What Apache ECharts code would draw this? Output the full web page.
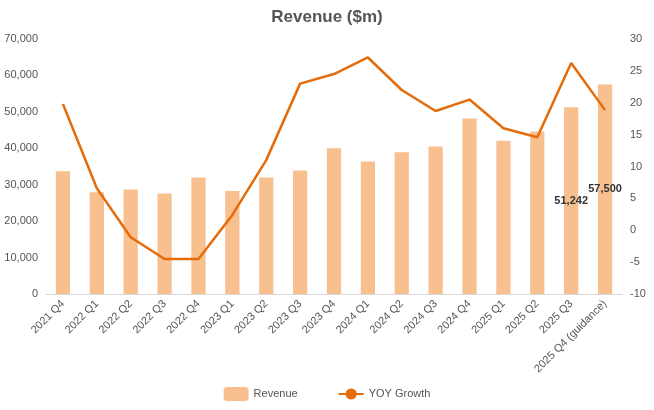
<!DOCTYPE html>
<html lang="en">
<head>
<meta charset="UTF-8">
<title>Revenue</title>
<script src="https://cdn.jsdelivr.net/npm/echarts@6/dist/echarts.min.js"></script>
<style>html,body{margin:0;padding:0;background:#fff}#main{width:654px;height:410px}</style>
</head>
<body>
<div id="main"></div>
<script>
var categories = ['2021 Q4','2022 Q1','2022 Q2','2022 Q3','2022 Q4','2023 Q1','2023 Q2','2023 Q3','2023 Q4','2024 Q1','2024 Q2','2024 Q3','2024 Q4','2025 Q1','2025 Q2','2025 Q3','2025 Q4 (guidance)'];
var revenue = [33700,27900,28700,27600,32000,28300,32000,33900,40000,36400,38900,40500,48200,42100,44600,51242,57500];
var yoyGrowth = [19.8,6.6,-1.1,-4.5,-4.5,2.4,11,23,24.5,27.1,22,18.7,20.5,16,14.6,26.25,18.84];

var chart = echarts.init(document.getElementById('main'));
var n = categories.length;
chart.setOption({
  title: { text: 'Revenue ($m)', left: 'center', top: 4, textStyle: { fontSize: 17, fontWeight: 'bold', color: '#555', fontFamily: 'Liberation Sans' } },
  legend: { bottom: 4, itemGap: 40, textStyle: { color: '#555', fontSize: 11 }, data: ['Revenue', 'YOY Growth'] },
  grid: { left: 46, right: 32, top: 39, bottom: 116 },
  xAxis: {
    type: 'category', data: categories,
    axisTick: { show: false },
    axisLine: { lineStyle: { color: '#d9d9d9' } },
    axisLabel: { rotate: 45, color: '#555', fontSize: 11, interval: 0 }
  },
  yAxis: [
    { type: 'value', min: 0, max: 70000, interval: 10000,
      axisLabel: { color: '#555', fontSize: 11, formatter: function (v) { return v.toLocaleString('en-US'); } },
      splitLine: { show: false } },
    { type: 'value', min: -10, max: 30, interval: 5,
      axisLabel: { color: '#555', fontSize: 11 }, splitLine: { show: false } }
  ],
  series: [
    { name: 'Revenue', type: 'bar', barWidth: '42%',
      itemStyle: { color: '#f8c08f' },
      data: revenue.map(function (v, i) {
        return i >= n - 2 ? { value: v, label: { show: true, position: 'inside', fontWeight: 'bold', color: '#333', fontSize: 11, formatter: function (p) { return p.value.toLocaleString('en-US'); } } } : v;
      }) },
    { name: 'YOY Growth', type: 'line', yAxisIndex: 1, symbol: 'none',
      lineStyle: { color: '#e46c0a', width: 2.5 }, itemStyle: { color: '#e46c0a' },
      data: yoyGrowth.map(function (v, i) {
        return i >= n - 2 ? { value: v, label: { show: true, position: 'top', distance: 8, fontWeight: 'bold', fontStyle: 'italic', color: '#e46c0a', fontSize: 11, formatter: function (p) { return p.value.toFixed(2); } } } : v;
      }) }
  ]
});
</script>
</body>
</html>
